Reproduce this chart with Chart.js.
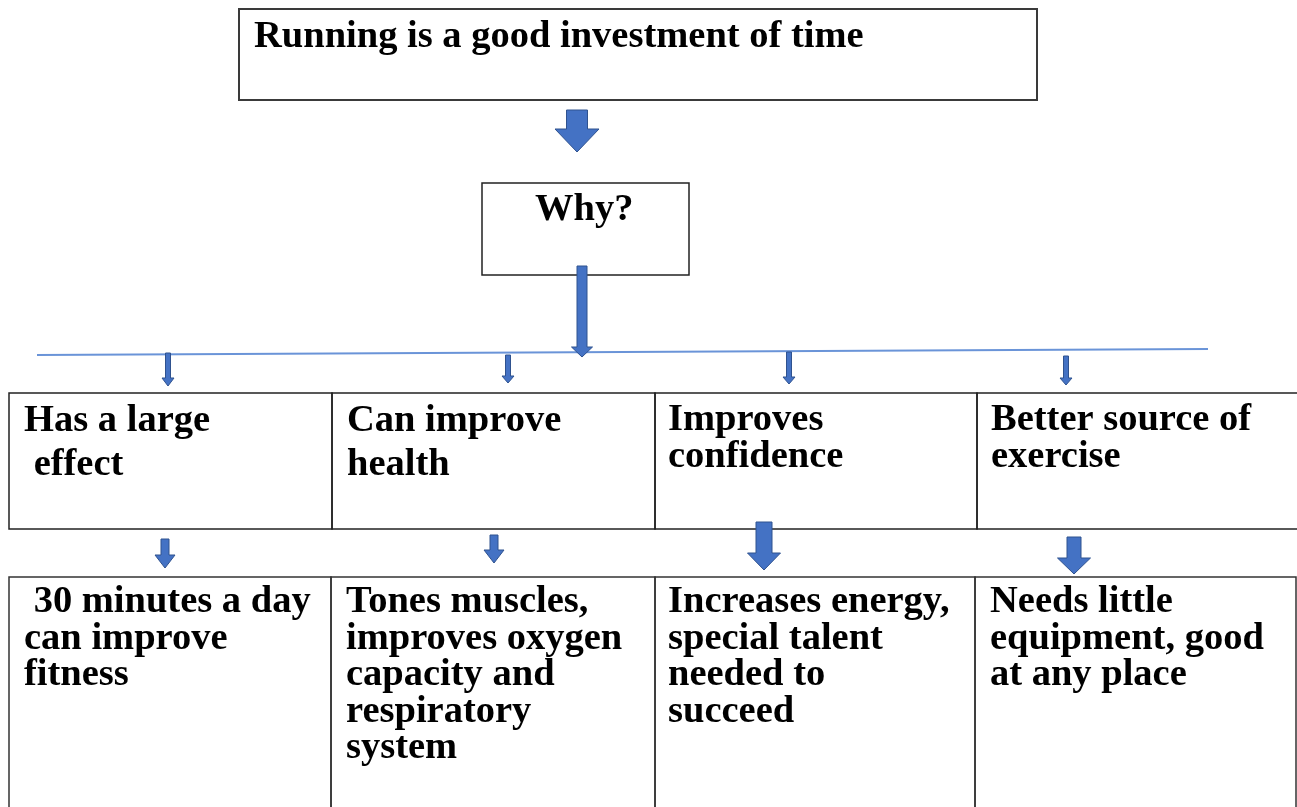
<!DOCTYPE html>
<html>
<head>
<meta charset="utf-8">
<script src="https://cdn.jsdelivr.net/npm/chart.js@4"></script>
<style>
  html, body { margin: 0; padding: 0; background: #fff; }
  #wrap { width: 1297px; height: 807px; }
</style>
</head>
<body>
<div id="wrap"><canvas id="chart" width="1297" height="807"></canvas></div>
<script>
// --- diagram content ---
const topClaim = ["Running is a good investment of time"];
const question = ["Why?"];
const reasons = [
    ["Has a large", " effect"],
    ["Can improve", "health"],
    ["Improves", "confidence"],
    ["Better source of", "exercise"]
];
const details = [
    [" 30 minutes a day", "can improve", "fitness"],
    ["Tones muscles,", "improves oxygen", "capacity and", "respiratory", "system"],
    ["Increases energy,", "special talent", "needed to", "succeed"],
    ["Needs little", "equipment, good", "at any place"]
];

// --- layout (in axis units, 1 unit = 1 px of the original) ---
// boxes: [x0, y0, x1, y1]
const topBox = [239, 9, 1037, 100];
const whyBox = [482, 183, 689, 275];
const reasonBoxes = [[9, 393, 332, 529], [332, 393, 655, 529], [655, 393, 977, 529], [977, 393, 1300, 529]];
const detailBoxes = [[9, 577, 331, 812], [331, 577, 655, 812], [655, 577, 975, 812], [975, 577, 1296, 812]];
// text anchors: [x, first baseline, line step]
const topText = [254, 47, 40];
const whyText = [535, 220, 40];
const reasonText = [[24, 431, 44], [347, 431, 44], [668, 430, 37], [991, 430, 37]];
const detailText = [[24, 612, 36.5], [346, 612, 36.5], [668, 612, 36.5], [990, 612, 36.5]];
// block arrows: [centre x, top, head start, tip, shaft width, head width]
const arrows = [
    [577, 110, 129, 152, 21, 44],
    [582, 266, 347, 357, 10, 21],
    [168, 353, 378, 386, 5, 12],
    [508, 355, 376, 383, 5, 12],
    [789, 352, 377, 384, 5, 12],
    [1066, 356, 378, 385, 5, 12],
    [165, 539, 555, 568, 8, 20],
    [494, 535, 550, 563, 8, 20],
    [764, 522, 553, 570, 16, 33],
    [1074, 537, 558, 574, 14, 33]
];
// the branch line
const branchX = [37, 1208];
const branchY = [355, 349];

const FONT = "bold 38.5px 'Liberation Serif', 'Times New Roman', serif";

const diagram = {
    id: 'diagram',
    afterDatasetsDraw(chart) {
        const ctx = chart.ctx;
        const sx = chart.scales.x, sy = chart.scales.y;
        const px = v => sx.getPixelForValue(v);
        const py = v => sy.getPixelForValue(v);

        function box(b, w, col) {
            ctx.save();
            ctx.strokeStyle = col;
            ctx.lineWidth = w;
            ctx.strokeRect(px(b[0]), py(b[1]), px(b[2]) - px(b[0]), py(b[3]) - py(b[1]));
            ctx.restore();
        }

        function lines(t, a) {
            ctx.save();
            ctx.font = FONT;
            ctx.fillStyle = '#000';
            ctx.textBaseline = 'alphabetic';
            t.forEach((s, i) => ctx.fillText(s, px(a[0]), py(a[1] + i * a[2])));
            ctx.restore();
        }

        function arrow(a) {
            const [cx, y0, yh, yt, sw, hw] = a;
            ctx.save();
            ctx.beginPath();
            ctx.moveTo(px(cx - sw / 2), py(y0));
            ctx.lineTo(px(cx + sw / 2), py(y0));
            ctx.lineTo(px(cx + sw / 2), py(yh));
            ctx.lineTo(px(cx + hw / 2), py(yh));
            ctx.lineTo(px(cx), py(yt));
            ctx.lineTo(px(cx - hw / 2), py(yh));
            ctx.lineTo(px(cx - sw / 2), py(yh));
            ctx.closePath();
            ctx.fillStyle = '#4472c4';
            ctx.fill();
            ctx.strokeStyle = '#2f528f';
            ctx.lineWidth = 1;
            ctx.stroke();
            ctx.restore();
        }

        box(topBox, 2, '#3a3a3a');
        box(whyBox, 1.5, '#222');
        reasonBoxes.forEach(b => box(b, 1.5, '#222'));
        detailBoxes.forEach(b => box(b, 1.5, '#333'));

        lines(topClaim, topText);
        lines(question, whyText);
        reasons.forEach((t, i) => lines(t, reasonText[i]));
        details.forEach((t, i) => lines(t, detailText[i]));

        arrows.forEach(arrow);
    }
};

new Chart(document.getElementById('chart').getContext('2d'), {
    type: 'scatter',
    data: {
        datasets: [{
            data: branchX.map((x, i) => ({x: x, y: branchY[i]})),
            showLine: true,
            borderColor: '#6a94d8',
            borderWidth: 2,
            pointRadius: 0
        }]
    },
    options: {
        responsive: false,
        animation: false,
        layout: { padding: 0 },
        scales: {
            x: { type: 'linear', min: 0, max: 1297, display: false },
            y: { type: 'linear', min: 0, max: 807, reverse: true, display: false }
        },
        plugins: {
            legend: { display: false },
            tooltip: { enabled: false }
        }
    },
    plugins: [diagram]
});
</script>
</body>
</html>
